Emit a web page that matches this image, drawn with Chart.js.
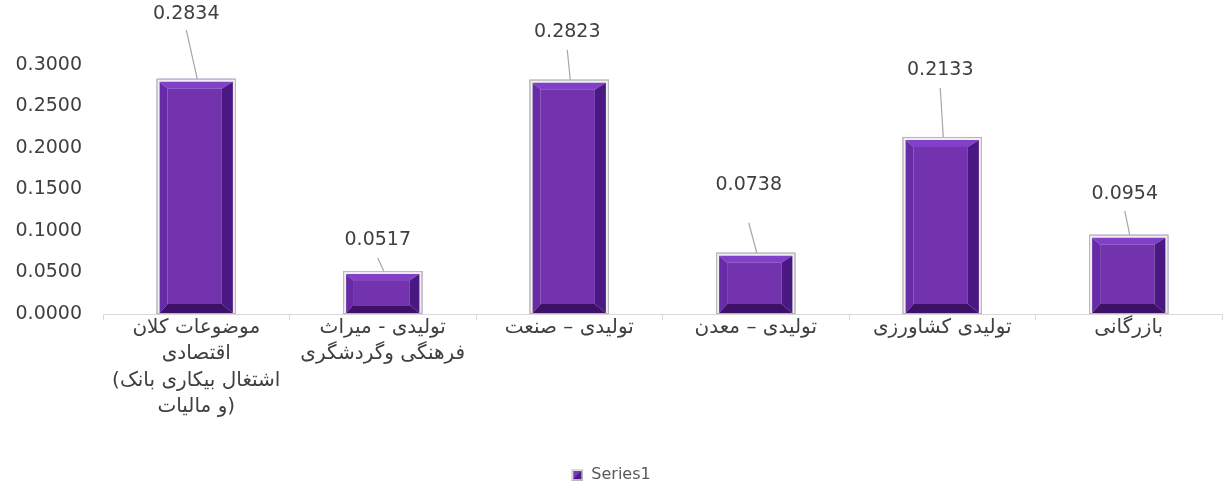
<!DOCTYPE html>
<html>
<head>
<meta charset="utf-8">
<script src="https://cdn.jsdelivr.net/npm/chart.js@4.4.1/dist/chart.umd.min.js"></script>
<style>
  html, body { margin: 0; padding: 0; background: #ffffff; }
  #wrap { width: 1229px; height: 493px; position: relative; }
</style>
</head>
<body>
<div id="wrap"><canvas id="chart" width="1229" height="493"></canvas></div>
<script>
// Sector categories (multi-line where the label wraps)
const categories = [
  ['موضوعات کلان', 'اقتصادی', '(اشتغال بیکاری بانک', 'و مالیات)'],
  ['تولیدی - میراث', 'فرهنگی وگردشگری'],
  'تولیدی – صنعت',
  'تولیدی – معدن',
  'تولیدی کشاورزی',
  'بازرگانی'
];
const seriesName = 'Series1';
const values = [0.2834, 0.0517, 0.2823, 0.0738, 0.2133, 0.0954];
const yTickValues = [0, 0.05, 0.10, 0.15, 0.20, 0.25, 0.30];

const FONT = "'DejaVu Sans', sans-serif";
const TEXT = '#404040';

// Small bevelled square used as the legend marker
function legendMarker() {
  const c = document.createElement('canvas');
  c.width = 12; c.height = 12;
  const g = c.getContext('2d');
  g.fillStyle = '#dcdcdc'; g.fillRect(0, 0, 12, 12);
  g.fillStyle = '#b8b8b8';
  g.beginPath(); g.moveTo(12, 0); g.lineTo(12, 12); g.lineTo(0, 12); g.closePath(); g.fill();
  g.fillStyle = '#4e1a82'; g.fillRect(2, 2, 8, 8);
  g.fillStyle = '#7a3ab8';
  g.beginPath(); g.moveTo(2, 2); g.lineTo(10, 2); g.lineTo(2, 10); g.closePath(); g.fill();
  return c;
}

// Draws each bar as a bevelled block with a pale frame
const bevelBars = {
  id: 'bevelBars',
  afterDatasetsDraw(chart) {
    const ctx = chart.ctx;
    const meta = chart.getDatasetMeta(0);
    ctx.save();
    meta.data.forEach(bar => {
      const p = bar.getProps(['x', 'y', 'base', 'width'], true);
      const l = p.x - p.width / 2, r = p.x + p.width / 2, t = p.y, b = p.base;
      // frame
      ctx.fillStyle = '#efefef';
      ctx.fillRect(l, t, r - l, b - t);
      ctx.strokeStyle = '#b4b4b4';
      ctx.lineWidth = 1;
      ctx.strokeRect(l + 0.5, t + 0.5, r - l - 1, b - t - 1);
      const il = l + 3, ir = r - 3, it = t + 3, ib = b - 1;
      const k = Math.min(1, (ib - it) / 45);
      const fl = il + 8 * k, fr = ir - 11 * k, ft = it + 7 * k, fb = ib - 9 * k;
      const poly = (pts, col) => {
        ctx.fillStyle = col;
        ctx.beginPath();
        ctx.moveTo(pts[0][0], pts[0][1]);
        for (let i = 1; i < pts.length; i++) ctx.lineTo(pts[i][0], pts[i][1]);
        ctx.closePath();
        ctx.fill();
      };
      poly([[il, it], [ir, it], [fr, ft], [fl, ft]], '#8240c8');
      poly([[il, it], [fl, ft], [fl, fb], [il, ib]], '#682ba8');
      poly([[ir, it], [ir, ib], [fr, fb], [fr, ft]], '#4a1882');
      poly([[il, ib], [fl, fb], [fr, fb], [ir, ib]], '#3d1168');
      ctx.fillStyle = '#7433ae';
      ctx.fillRect(fl, ft, fr - fl, fb - ft);
    });
    ctx.restore();
  }
};

// Value labels lifted above each bar, joined to it by a thin leader line
const leaderLabels = {
  id: 'leaderLabels',
  afterDatasetsDraw(chart, args, opts) {
    const ctx = chart.ctx;
    const meta = chart.getDatasetMeta(0);
    const data = chart.data.datasets[0].data;
    ctx.save();
    ctx.font = opts.font;
    ctx.textAlign = 'center';
    ctx.textBaseline = 'middle';
    meta.data.forEach((bar, i) => {
      const p = bar.getProps(['x', 'y'], true);
      const lx = p.x + opts.shift[i];
      const ly = p.y - opts.lift[i];
      ctx.strokeStyle = '#a6a6a6';
      ctx.lineWidth = 1.2;
      ctx.beginPath();
      ctx.moveTo(lx, ly + opts.gap[i]);
      ctx.lineTo(p.x + 1, p.y);
      ctx.stroke();
      ctx.fillStyle = TEXT;
      ctx.fillText(data[i].toFixed(4), lx, ly);
    });
    ctx.restore();
  }
};

new Chart(document.getElementById('chart'), {
  type: 'bar',
  data: {
    labels: categories,
    datasets: [{
      label: seriesName,
      data: values,
      backgroundColor: '#7030A0',
      borderWidth: 0,
      barPercentage: 0.425,
      categoryPercentage: 1.0
    }]
  },
  options: {
    responsive: false,
    animation: false,
    layout: { padding: { top: 65, right: 7, left: 0, bottom: 0 } },
    plugins: {
      tooltip: { enabled: false },
      legend: {
        position: 'bottom',
        labels: {
          usePointStyle: true,
          pointStyle: legendMarker(),
          boxWidth: 12,
          boxHeight: 12,
          padding: 6,
          color: '#595959',
          font: { family: FONT, size: 16 }
        }
      },
      leaderLabels: {
        font: "19px " + FONT,
        lift: [65, 31, 48, 68, 67, 41],
        shift: [-10, -5, -2, -7, -2, -4],
        gap: [16, 18, 18, 38, 18, 17]
      }
    },
    scales: {
      x: {
        afterFit(scale) { scale.height = 147; },
        grid: {
          display: true,
          drawOnChartArea: false,
          drawTicks: true,
          tickLength: 6,
          color: '#d9d9d9',
          offset: true
        },
        border: { display: true, color: '#d9d9d9', width: 1 },
        ticks: {
          color: TEXT,
          autoSkip: false,
          maxRotation: 0,
          minRotation: 0,
          padding: -6,
          font: { family: FONT, size: 20, lineHeight: 1.33 }
        }
      },
      y: {
        min: 0,
        max: 0.3,
        afterFit(scale) { scale.width = 103; },
        afterBuildTicks(scale) { scale.ticks = yTickValues.map(v => ({ value: v })); },
        grid: { display: false, drawTicks: false },
        border: { display: false },
        ticks: {
          color: TEXT,
          padding: 21,
          font: { family: FONT, size: 19 },
          callback: v => Number(v).toFixed(4)
        }
      }
    }
  },
  plugins: [bevelBars, leaderLabels]
});
</script>
</body>
</html>
